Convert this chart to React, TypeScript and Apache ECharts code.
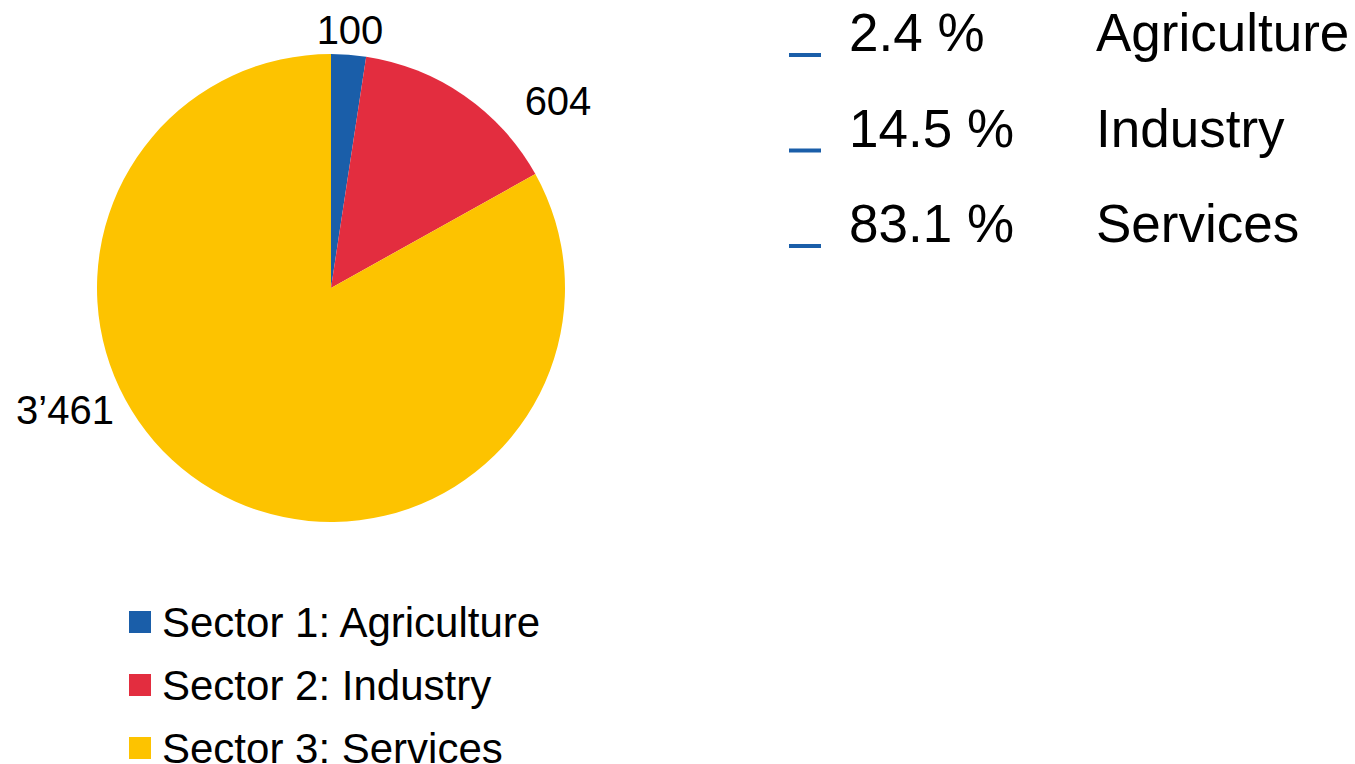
import React, { useEffect, useRef } from "react";
import * as echarts from "echarts";

const categories = ["Sector 1: Agriculture", "Sector 2: Industry", "Sector 3: Services"];
const shortNames = ["Agriculture", "Industry", "Services"];
const values = [100, 604, 3461];
const valueLabels = ["100", "604", "3’461"];
const colors = ["#1a5ea9", "#e32d3f", "#fdc300"];
const markerColor = "#1a5ea9";

const FONT = "'Liberation Sans', Arial, sans-serif";

export default function App() {
  const ref = useRef<HTMLDivElement>(null);
  useEffect(() => {
    if (!ref.current) return;
    const chart = echarts.init(ref.current, null, { renderer: "svg" });
    const total = values.reduce((a, b) => a + b, 0);
    const percents = values.map((v) => ((v / total) * 100).toFixed(1) + " %");
    const cx = 331;
    const cy = 288;
    const r = 234;
    // label anchor positions relative to pie center (Excel best-fit style)
    const labelPos = [
      { x: cx + 19, y: cy - 258 },
      { x: cx + 227, y: cy - 187 },
      { x: cx - 266, y: cy + 122 },
    ];
    const rowGap = 95.5;
    const graphics: any[] = [];
    shortNames.forEach((n, i) => {
      graphics.push({
        type: "rect",
        shape: { x: 789, y: 53 + i * rowGap, width: 32, height: 4 },
        style: { fill: markerColor },
      });
      graphics.push({
        type: "text",
        x: 849,
        y: 32.5 + i * rowGap,
        style: { text: percents[i], font: `53px ${FONT}`, fill: "#000", verticalAlign: "middle", align: "left" },
      });
      graphics.push({
        type: "text",
        x: 1096,
        y: 32.5 + i * rowGap,
        style: { text: n, font: `53px ${FONT}`, fill: "#000", verticalAlign: "middle", align: "left" },
      });
    });
    chart.setOption({
      animation: false,
      color: colors,
      legend: {
        orient: "vertical",
        left: 129,
        top: 601,
        height: 200,
        padding: 0,
        icon: "rect",
        itemWidth: 22,
        itemHeight: 22,
        itemGap: 21,
        selectedMode: false,
        data: categories,
        textStyle: { fontFamily: FONT, fontSize: 42, color: "#000", lineHeight: 42, padding: [0, 0, 0, 6] },
      },
      graphic: graphics,
      series: [
        {
          type: "pie",
          center: [cx, cy],
          radius: r,
          startAngle: 90,
          clockwise: true,
          avoidLabelOverlap: false,
          label: {
            show: true,
            position: "outside",
            formatter: (p: any) => valueLabels[p.dataIndex],
            fontFamily: FONT,
            fontSize: 40,
            color: "#000",
          },
          labelLine: { show: false },
          labelLayout: (p: any) => ({
            x: labelPos[p.dataIndex].x,
            y: labelPos[p.dataIndex].y,
            align: "center",
            verticalAlign: "middle",
          }),
          itemStyle: { borderWidth: 0 },
          emphasis: { disabled: true },
          data: categories.map((c, i) => ({ name: c, value: values[i] })),
        },
      ],
    });
    return () => chart.dispose();
  }, []);
  return <div ref={ref} style={{ width: 1355, height: 764, position: "absolute", left: 0, top: 0 }} />;
}
